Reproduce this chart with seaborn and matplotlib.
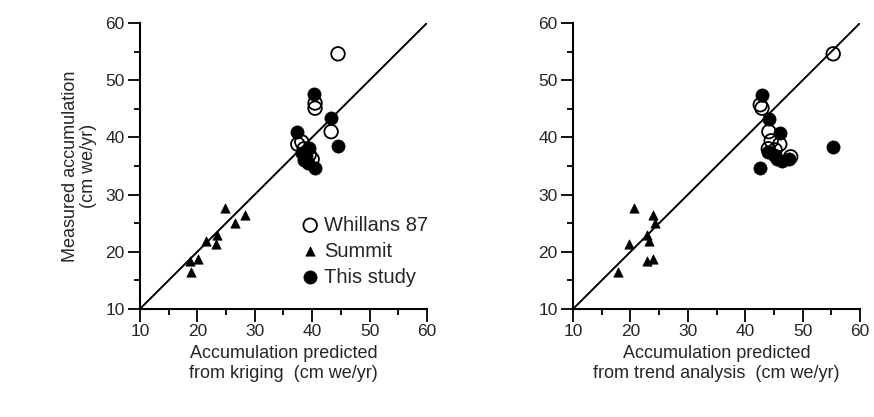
import matplotlib
matplotlib.use("Agg")
import matplotlib.pyplot as plt
import seaborn as sns
import pandas as pd
from matplotlib.ticker import MultipleLocator

# ---------------- data ----------------
# Summit (triangles)
summit_measured = [27.6, 26.4, 25.0, 22.9, 21.8, 21.3, 18.7, 18.4, 16.5]
summit_kriging  = [24.9, 28.3, 26.5, 23.4, 21.5, 23.3, 20.2, 18.7, 18.9]
summit_trend    = [20.7, 24.0, 24.3, 22.9, 23.2, 19.7, 23.9, 22.9, 17.9]

# Whillans 87 (open circles)
whillans_k_x = [44.5, 40.5, 40.5, 43.3, 37.5, 38.2, 39.5, 40.0, 38.6]
whillans_k_y = [54.6, 46.0, 45.1, 41.0, 38.8, 39.2, 37.0, 36.2, 38.0]
whillans_t_x = [55.3, 42.6, 42.9, 44.1, 44.5, 46.0, 47.9, 45.2, 44.0]
whillans_t_y = [54.6, 45.7, 45.1, 41.0, 39.4, 38.8, 36.6, 37.8, 38.0]

# This study (filled circles)
study_k_x = [40.4, 43.2, 44.5, 37.3, 38.5, 39.2, 40.5, 38.2, 39.4, 38.9]
study_k_y = [47.6, 43.3, 38.5, 40.9, 36.0, 35.6, 34.6, 37.2, 38.2, 36.7]
study_t_x = [42.9, 44.1, 55.3, 46.0, 42.5, 44.0, 45.5, 46.4, 47.6, 45.0]
study_t_y = [47.4, 43.2, 38.4, 40.8, 34.6, 37.5, 36.2, 35.8, 36.3, 37.0]

one_to_one = [10, 60]
ticks = [10, 20, 30, 40, 50, 60]

xlabels = ["Accumulation predicted\nfrom kriging  (cm we/yr)",
           "Accumulation predicted\nfrom trend analysis  (cm we/yr)"]
ylabel = "Measured accumulation\n(cm we/yr)"

# ---------------- style ----------------
sns.set_theme(style="ticks")
plt.rcParams["font.family"] = ["Liberation Sans", "DejaVu Sans"]

fig = plt.figure(figsize=(8.74, 4.17), dpi=100)
ax1 = fig.add_axes([0.160, 0.259, 0.3286, 0.686])
ax2 = fig.add_axes([0.6556, 0.259, 0.3286, 0.686])

panels = [
    (ax1, summit_kriging, whillans_k_x, whillans_k_y, study_k_x, study_k_y),
    (ax2, summit_trend, whillans_t_x, whillans_t_y, study_t_x, study_t_y),
]

for i, (ax, sx, wx, wy, tx, ty) in enumerate(panels):
    ax.plot(one_to_one, one_to_one, color="black", lw=1.4, zorder=1)
    dfs = pd.DataFrame({"x": sx, "y": summit_measured})
    dfw = pd.DataFrame({"x": wx, "y": wy})
    dft = pd.DataFrame({"x": tx, "y": ty})
    sns.scatterplot(data=dfw, x="x", y="y", ax=ax, marker="o", s=95,
                    facecolors="none", edgecolor="black", linewidth=1.3,
                    label="Whillans 87", zorder=3)
    sns.scatterplot(data=dfs, x="x", y="y", ax=ax, marker="^", s=45,
                    color="black", edgecolor="black", linewidth=0.5,
                    label="Summit", zorder=3)
    sns.scatterplot(data=dft, x="x", y="y", ax=ax, marker="o", s=90,
                    color="black", edgecolor="black", linewidth=0.5,
                    label="This study", zorder=3)

    ax.set_xlim(10, 60)
    ax.set_ylim(10, 60)
    ax.set_xticks(ticks)
    ax.set_yticks(ticks)
    ax.xaxis.set_minor_locator(MultipleLocator(5))
    ax.yaxis.set_minor_locator(MultipleLocator(5))
    ax.tick_params(which="major", direction="out", length=9, width=1.3,
                   labelsize=12.5, color="black", pad=2)
    ax.tick_params(which="minor", direction="out", length=4.5, width=1.3,
                   color="black")
    for side in ["top", "right"]:
        ax.spines[side].set_visible(False)
    for side in ["left", "bottom"]:
        ax.spines[side].set_linewidth(1.5)
        ax.spines[side].set_color("black")
    ax.set_xlabel(xlabels[i], fontsize=13, labelpad=4, linespacing=1.25)
    ax.set_ylabel("")
    ax.set_facecolor("white")

    if i == 0:
        ax.set_ylabel(ylabel, fontsize=13, labelpad=6, linespacing=1.1)
        ax.legend(loc="upper left", bbox_to_anchor=(0.53, 0.355), frameon=False,
                  fontsize=14.5, handletextpad=0.2, labelspacing=0.35,
                  handlelength=1.0, borderaxespad=0)
    else:
        leg = ax.get_legend()
        if leg is not None:
            leg.remove()

fig.savefig("out.png", dpi=100, facecolor="white")
